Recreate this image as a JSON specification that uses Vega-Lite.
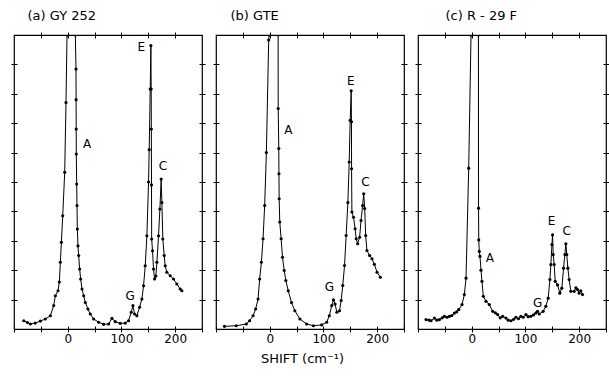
{
  "$schema": "https://vega.github.io/schema/vega-lite/v6.json",
  "padding": {"left": 9, "top": 8, "right": 2, "bottom": 5},
  "bounds": "flush",
  "spacing": 14,
  "config": {
    "view": {"stroke": "black", "strokeWidth": 1.2},
    "font": "DejaVu Sans",
    "axis": {"domain": false, "grid": false, "tickColor": "black", "tickSize": 6, "offset": -3, "tickWidth": 1, "labelColor": "black", "labelFont": "DejaVu Sans", "labelFontSize": 12, "titleFont": "DejaVu Sans", "titleFontWeight": "normal", "titleColor": "black"},
    "title": {"font": "DejaVu Sans", "fontSize": 13, "fontWeight": "normal", "color": "black", "anchor": "start"}
  },
  "datasets": {
    "a": [
      {"x": -81.8, "y": 0.28}, {"x": -75, "y": 0.22}, {"x": -69.5, "y": 0.17}, {"x": -60.6, "y": 0.2}, {"x": -50.9, "y": 0.27}, {"x": -41.6, "y": 0.34}, {"x": -32.3, "y": 0.45}, {"x": -26.1, "y": 0.8}, {"x": -23, "y": 1.13}, {"x": -18, "y": 1.3}, {"x": -15.6, "y": 1.6}, {"x": -13.7, "y": 2.27}, {"x": -11.8, "y": 2.95}, {"x": -9.3, "y": 3.85}, {"x": -5.6, "y": 5.33}, {"x": -3.2, "y": 7.7}, {"x": -1.3, "y": 10}, {"x": 14.2, "y": 10}, {"x": 15.4, "y": 8.84}, {"x": 15.6, "y": 7.8}, {"x": 15.8, "y": 6.8}, {"x": 16, "y": 5.95}, {"x": 16.7, "y": 4.93}, {"x": 17.3, "y": 4.2}, {"x": 17.9, "y": 3.4}, {"x": 19.1, "y": 2.83}, {"x": 20.4, "y": 2.5}, {"x": 22.2, "y": 2.04}, {"x": 24.1, "y": 1.7}, {"x": 26.6, "y": 1.36}, {"x": 29.7, "y": 1.13}, {"x": 32.8, "y": 0.9}, {"x": 37.7, "y": 0.68}, {"x": 42, "y": 0.51}, {"x": 48.3, "y": 0.34}, {"x": 57.6, "y": 0.23}, {"x": 66.9, "y": 0.16}, {"x": 76.2, "y": 0.17}, {"x": 82.3, "y": 0.36}, {"x": 88.5, "y": 0.25}, {"x": 97.8, "y": 0.19}, {"x": 107.1, "y": 0.2}, {"x": 113.3, "y": 0.28}, {"x": 118.3, "y": 0.57}, {"x": 121.4, "y": 0.8}, {"x": 124.5, "y": 0.51}, {"x": 128.8, "y": 0.45}, {"x": 133.8, "y": 0.74}, {"x": 138.1, "y": 1.02}, {"x": 141.2, "y": 1.47}, {"x": 144.3, "y": 2.15}, {"x": 147.4, "y": 3.17}, {"x": 150.5, "y": 5.0}, {"x": 151.7, "y": 6.1}, {"x": 153.6, "y": 8.16}, {"x": 154.8, "y": 9.64}, {"x": 155.4, "y": 8.16}, {"x": 155.7, "y": 6.8}, {"x": 156, "y": 4.9}, {"x": 156.3, "y": 3.06}, {"x": 157.9, "y": 2.66}, {"x": 159.8, "y": 2.04}, {"x": 161.7, "y": 1.7}, {"x": 164.1, "y": 1.8}, {"x": 166, "y": 2.27}, {"x": 169.1, "y": 3.17}, {"x": 171.6, "y": 4.08}, {"x": 174, "y": 5.1}, {"x": 175.3, "y": 4.3}, {"x": 177.1, "y": 3.06}, {"x": 179.6, "y": 2.5}, {"x": 181.5, "y": 2.15}, {"x": 184.6, "y": 1.93}, {"x": 190.8, "y": 1.81}, {"x": 197, "y": 1.7}, {"x": 203.2, "y": 1.53}, {"x": 209.4, "y": 1.36}, {"x": 212.5, "y": 1.3}
    ],
    "b": [
      {"x": -84.3, "y": 0.09}, {"x": -62.4, "y": 0.11}, {"x": -43.6, "y": 0.17}, {"x": -37.5, "y": 0.28}, {"x": -31, "y": 0.45}, {"x": -26.2, "y": 0.68}, {"x": -21.7, "y": 1.02}, {"x": -18.7, "y": 1.7}, {"x": -15.5, "y": 2.27}, {"x": -12.4, "y": 3.07}, {"x": -9.4, "y": 4.2}, {"x": -6.2, "y": 6.0}, {"x": -1.9, "y": 9.83}, {"x": -1, "y": 10}, {"x": 15.7, "y": 10}, {"x": 15.8, "y": 7.5}, {"x": 16.9, "y": 6.14}, {"x": 17.2, "y": 5.28}, {"x": 17.6, "y": 4.43}, {"x": 18.7, "y": 3.64}, {"x": 21.3, "y": 3.07}, {"x": 23.8, "y": 2.44}, {"x": 27, "y": 1.99}, {"x": 30, "y": 1.65}, {"x": 34.5, "y": 1.3}, {"x": 40.6, "y": 0.9}, {"x": 46.8, "y": 0.62}, {"x": 56.2, "y": 0.34}, {"x": 68.7, "y": 0.17}, {"x": 81.3, "y": 0.11}, {"x": 96.8, "y": 0.14}, {"x": 106, "y": 0.23}, {"x": 111, "y": 0.45}, {"x": 115.5, "y": 0.8}, {"x": 118.7, "y": 0.99}, {"x": 121.7, "y": 0.85}, {"x": 125, "y": 0.57}, {"x": 130, "y": 0.62}, {"x": 133, "y": 0.97}, {"x": 136, "y": 1.48}, {"x": 139.3, "y": 2.16}, {"x": 142.3, "y": 3.18}, {"x": 145.5, "y": 4.3}, {"x": 148, "y": 5.68}, {"x": 149.8, "y": 7.1}, {"x": 151.7, "y": 8.1}, {"x": 152.2, "y": 7.05}, {"x": 152.4, "y": 5.45}, {"x": 153, "y": 3.98}, {"x": 156, "y": 3.8}, {"x": 159, "y": 3.41}, {"x": 161, "y": 3.07}, {"x": 163.7, "y": 2.9}, {"x": 167.4, "y": 3.12}, {"x": 170, "y": 3.69}, {"x": 173, "y": 4.2}, {"x": 175, "y": 4.6}, {"x": 176.8, "y": 4.1}, {"x": 178.7, "y": 3.18}, {"x": 181, "y": 2.67}, {"x": 186, "y": 2.5}, {"x": 190.4, "y": 2.39}, {"x": 194.8, "y": 2.2}, {"x": 199.8, "y": 1.93}, {"x": 206, "y": 1.76}
    ],
    "c": [
      {"x": -85, "y": 0.32}, {"x": -79, "y": 0.3}, {"x": -75.6, "y": 0.28}, {"x": -69.5, "y": 0.37}, {"x": -65, "y": 0.3}, {"x": -60, "y": 0.32}, {"x": -55, "y": 0.38}, {"x": -51, "y": 0.43}, {"x": -46, "y": 0.4}, {"x": -41.6, "y": 0.43}, {"x": -37, "y": 0.46}, {"x": -32.3, "y": 0.54}, {"x": -28, "y": 0.58}, {"x": -24.2, "y": 0.66}, {"x": -18, "y": 0.83}, {"x": -13.7, "y": 1.17}, {"x": -10.6, "y": 1.73}, {"x": -5.6, "y": 5.47}, {"x": -1.3, "y": 10}, {"x": 12.5, "y": 10}, {"x": 12.7, "y": 4.11}, {"x": 13.1, "y": 3.03}, {"x": 14.1, "y": 2.64}, {"x": 15.4, "y": 2.47}, {"x": 17.3, "y": 2.0}, {"x": 19.1, "y": 1.62}, {"x": 21.6, "y": 1.11}, {"x": 26.6, "y": 0.94}, {"x": 32.7, "y": 0.83}, {"x": 39, "y": 0.6}, {"x": 44, "y": 0.55}, {"x": 48.3, "y": 0.49}, {"x": 53, "y": 0.38}, {"x": 57.6, "y": 0.43}, {"x": 63.8, "y": 0.37}, {"x": 68, "y": 0.3}, {"x": 73, "y": 0.28}, {"x": 78, "y": 0.33}, {"x": 82.3, "y": 0.4}, {"x": 87, "y": 0.35}, {"x": 91.6, "y": 0.43}, {"x": 96, "y": 0.4}, {"x": 101, "y": 0.49}, {"x": 105, "y": 0.42}, {"x": 110, "y": 0.43}, {"x": 115, "y": 0.48}, {"x": 119.5, "y": 0.54}, {"x": 122.5, "y": 0.6}, {"x": 125.7, "y": 0.51}, {"x": 133, "y": 0.6}, {"x": 138, "y": 0.77}, {"x": 142.4, "y": 1.05}, {"x": 145.5, "y": 1.68}, {"x": 147.4, "y": 2.19}, {"x": 149.3, "y": 2.87}, {"x": 150.5, "y": 3.2}, {"x": 151.7, "y": 2.53}, {"x": 153.5, "y": 2.19}, {"x": 155.4, "y": 1.62}, {"x": 159.8, "y": 1.5}, {"x": 164, "y": 1.22}, {"x": 167.8, "y": 1.39}, {"x": 171, "y": 2.07}, {"x": 173.4, "y": 2.53}, {"x": 175.3, "y": 2.9}, {"x": 177, "y": 2.53}, {"x": 179, "y": 2.07}, {"x": 181.4, "y": 1.68}, {"x": 184.6, "y": 1.28}, {"x": 190.7, "y": 1.28}, {"x": 194, "y": 1.4}, {"x": 197, "y": 1.34}, {"x": 200, "y": 1.22}, {"x": 203, "y": 1.3}, {"x": 206.3, "y": 1.17}
    ],
    "la": [{"x": 36, "y": 6.29, "t": "A"}, {"x": 136.8, "y": 9.58, "t": "E"}, {"x": 177.1, "y": 5.56, "t": "C"}, {"x": 116.4, "y": 1.13, "t": "G"}],
    "lb": [{"x": 34.5, "y": 6.76, "t": "A"}, {"x": 151, "y": 8.44, "t": "E"}, {"x": 178, "y": 5.0, "t": "C"}, {"x": 111, "y": 1.42, "t": "G"}],
    "lc": [{"x": 34, "y": 2.41, "t": "A"}, {"x": 148.7, "y": 3.66, "t": "E"}, {"x": 177, "y": 3.32, "t": "C"}, {"x": 122.7, "y": 0.9, "t": "G"}]
  },
  "hconcat": [
    {
      "width": 188, "height": 294,
      "title": {"text": "(a) GY 252", "dx": 17, "offset": 9},
      "resolve": {"scale": {"x": "independent", "y": "independent"}},
      "layer": [
        {
          "data": {"name": "a"},
          "mark": {"type": "line", "color": "black", "strokeWidth": 1, "clip": true, "point": {"filled": true, "size": 10, "color": "black"}},
          "encoding": {
            "x": {"field": "x", "type": "quantitative", "scale": {"domain": [-100, 250], "nice": false, "zero": false},
              "axis": {"orient": "bottom", "title": null, "values": [-100, -50, 0, 50, 100, 150, 200, 250], "labelExpr": "datum.value == 0 || datum.value == 100 || datum.value == 200 ? datum.label : ''", "labelPadding": 1, "labelFlush": false}},
            "y": {"field": "y", "type": "quantitative", "scale": {"domain": [0, 10], "nice": false},
              "axis": {"orient": "left", "title": null, "labels": false, "values": [1, 2, 3, 4, 5, 6, 7, 8, 9]}}
          }
        },
        {
          "data": {"name": "la"},
          "mark": {"type": "text", "fontSize": 12, "color": "black", "font": "DejaVu Sans"},
          "encoding": {
            "x": {"field": "x", "type": "quantitative", "scale": {"domain": [-100, 250], "nice": false, "zero": false}, "axis": {"orient": "top", "title": null, "labels": false, "values": [-50, 0, 50, 100, 150, 200]}},
            "y": {"field": "y", "type": "quantitative", "scale": {"domain": [0, 10], "nice": false}, "axis": {"orient": "right", "title": null, "labels": false, "values": [1, 2, 3, 4, 5, 6, 7, 8, 9]}},
            "text": {"field": "t"}
          }
        }
      ]
    },
    {
      "width": 188, "height": 294,
      "title": {"text": "(b)  GTE", "dx": 18, "offset": 9},
      "resolve": {"scale": {"x": "independent", "y": "independent"}},
      "layer": [
        {
          "data": {"name": "b"},
          "mark": {"type": "line", "color": "black", "strokeWidth": 1, "clip": true, "point": {"filled": true, "size": 10, "color": "black"}},
          "encoding": {
            "x": {"field": "x", "type": "quantitative", "scale": {"domain": [-100, 250], "nice": false, "zero": false},
              "axis": {"orient": "bottom", "title": "SHIFT (cm⁻¹)", "titleFontSize": 13, "titlePadding": 8, "titleX": 86, "values": [-100, -50, 0, 50, 100, 150, 200, 250], "labelExpr": "datum.value == 0 || datum.value == 100 || datum.value == 200 ? datum.label : ''", "labelPadding": 1, "labelFlush": false}},
            "y": {"field": "y", "type": "quantitative", "scale": {"domain": [0, 10], "nice": false},
              "axis": {"orient": "left", "title": null, "labels": false, "values": [1, 2, 3, 4, 5, 6, 7, 8, 9]}}
          }
        },
        {
          "data": {"name": "lb"},
          "mark": {"type": "text", "fontSize": 12, "color": "black", "font": "DejaVu Sans"},
          "encoding": {
            "x": {"field": "x", "type": "quantitative", "scale": {"domain": [-100, 250], "nice": false, "zero": false}, "axis": {"orient": "top", "title": null, "labels": false, "values": [-50, 0, 50, 100, 150, 200]}},
            "y": {"field": "y", "type": "quantitative", "scale": {"domain": [0, 10], "nice": false}, "axis": {"orient": "right", "title": null, "labels": false, "values": [1, 2, 3, 4, 5, 6, 7, 8, 9]}},
            "text": {"field": "t"}
          }
        }
      ]
    },
    {
      "width": 188, "height": 294,
      "title": {"text": "(c)  R - 29 F", "dx": 31, "offset": 9},
      "resolve": {"scale": {"x": "independent", "y": "independent"}},
      "layer": [
        {
          "data": {"name": "c"},
          "mark": {"type": "line", "color": "black", "strokeWidth": 1, "clip": true, "point": {"filled": true, "size": 10, "color": "black"}},
          "encoding": {
            "x": {"field": "x", "type": "quantitative", "scale": {"domain": [-100, 250], "nice": false, "zero": false},
              "axis": {"orient": "bottom", "title": null, "values": [-100, -50, 0, 50, 100, 150, 200, 250], "labelExpr": "datum.value == 0 || datum.value == 100 || datum.value == 200 ? datum.label : ''", "labelPadding": 1, "labelFlush": false}},
            "y": {"field": "y", "type": "quantitative", "scale": {"domain": [0, 10], "nice": false},
              "axis": {"orient": "left", "title": null, "labels": false, "values": [1, 2, 3, 4, 5, 6, 7, 8, 9]}}
          }
        },
        {
          "data": {"name": "lc"},
          "mark": {"type": "text", "fontSize": 12, "color": "black", "font": "DejaVu Sans"},
          "encoding": {
            "x": {"field": "x", "type": "quantitative", "scale": {"domain": [-100, 250], "nice": false, "zero": false}, "axis": {"orient": "top", "title": null, "labels": false, "values": [-50, 0, 50, 100, 150, 200]}},
            "y": {"field": "y", "type": "quantitative", "scale": {"domain": [0, 10], "nice": false}, "axis": {"orient": "right", "title": null, "labels": false, "values": [1, 2, 3, 4, 5, 6, 7, 8, 9]}},
            "text": {"field": "t"}
          }
        }
      ]
    }
  ]
}
